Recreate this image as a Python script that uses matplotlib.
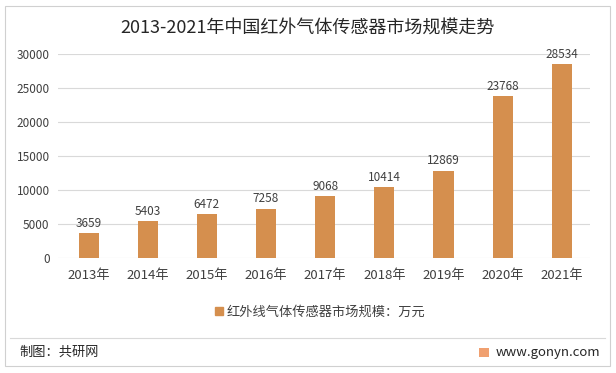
import matplotlib
matplotlib.use('Agg')
import matplotlib.pyplot as plt
from matplotlib.patches import Rectangle
from matplotlib.lines import Line2D

plt.rcParams['font.family'] = ['Noto Sans CJK SC', 'DejaVu Sans']

# 数据
years = ['2013年', '2014年', '2015年', '2016年', '2017年', '2018年', '2019年', '2020年', '2021年']
values = [3659, 5403, 6472, 7258, 9068, 10414, 12869, 23768, 28534]
yticks = [0, 5000, 10000, 15000, 20000, 25000, 30000]

bar_color = '#D58F4E'
text_color = '#404040'

fig = plt.figure(figsize=(6.16, 3.73), dpi=100)
ax = fig.add_axes([0.094, 0.308, 0.864, 0.547])

x = list(range(len(years)))
ax.bar(x, values, width=0.34, color=bar_color, zorder=3)
for xi, v in zip(x, values):
    ax.text(xi, v + 500, str(v), ha='center', va='bottom', fontsize=8.5, color=text_color)

ax.set_ylim(0, 30000)
ax.set_xlim(-0.52, 8.48)
ax.set_yticks(yticks)
ax.set_yticklabels([str(t) for t in yticks], fontsize=8.5, color=text_color)
ax.set_xticks(x)
ax.set_xticklabels(years, fontsize=9.5, color=text_color)
ax.tick_params(axis='both', length=0, pad=6)
ax.tick_params(axis='x', pad=8)
ax.grid(axis='y', color='#D9D9D9', linewidth=0.8, zorder=0)
for s in ax.spines.values():
    s.set_visible(False)

fig.text(0.5, 0.925, '2013-2021年中国红外气体传感器市场规模走势', ha='center', va='center',
         fontsize=13, color='#262626')

# 图例
leg = fig.legend([Rectangle((0, 0), 1, 1, color=bar_color)], ['红外线气体传感器市场规模：万元'],
                 loc='center', bbox_to_anchor=(0.52, 0.163), frameon=False, fontsize=9.5,
                 handlelength=0.6, handleheight=0.6, handletextpad=0.3)
for t in leg.get_texts():
    t.set_color(text_color)

# 边框与分隔线
fig.add_artist(Rectangle((0.008, 0.02), 0.982, 0.965, transform=fig.transFigure,
                         fill=False, edgecolor='#D0D0D0', linewidth=0.8))
fig.add_artist(Line2D([0.016, 0.982], [0.094, 0.094], transform=fig.transFigure,
                      color='#D9D9D9', linewidth=0.8))

fig.text(0.032, 0.055, '制图：共研网', ha='left', va='center', fontsize=9.5, color='#262626')
fig.add_artist(Rectangle((0.778, 0.044), 0.016, 0.024, transform=fig.transFigure,
                         color='#F0A070', linewidth=0))
fig.text(0.975, 0.056, 'www.gonyn.com', ha='right', va='center', fontsize=9.5, color='#262626')

fig.savefig('out.png', dpi=100)
